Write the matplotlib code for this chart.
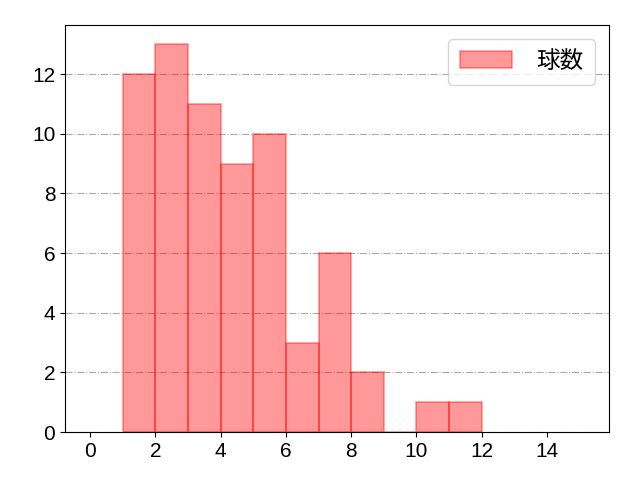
import numpy as np
import matplotlib
matplotlib.use("Agg")
import matplotlib.pyplot as plt

plt.rcParams['font.family'] = ['Liberation Sans', 'Noto Sans CJK JP', 'DejaVu Sans']

# histogram bins (left edges) and counts
bin_left = [1, 2, 3, 4, 5, 6, 7, 8, 9, 10, 11]
counts = [12, 13, 11, 9, 10, 3, 6, 2, 0, 1, 1]
label = '球数'

fig = plt.figure(figsize=(6.4, 4.8), dpi=100)
ax = fig.add_axes([0.1016, 0.1, 0.85, 0.848])

ax.bar(bin_left, counts, width=1.0, align='edge', color='red', alpha=0.4,
       edgecolor='red', linewidth=1.2, label=label, zorder=2)

ax.set_xlim(-0.77, 15.9)
ax.set_ylim(0, 13.65)
ax.set_xticks(np.arange(0, 16, 2))
ax.set_yticks(np.arange(0, 13, 2))
ax.tick_params(labelsize=15)
ax.grid(axis='y', color='#aaaaaa', linestyle='-.', linewidth=0.8, zorder=0)
ax.legend(loc='upper right', fontsize=17, handlelength=2.2, handletextpad=1.0,
          borderpad=0.5, borderaxespad=0.6)

fig.savefig('out.png', dpi=100)
